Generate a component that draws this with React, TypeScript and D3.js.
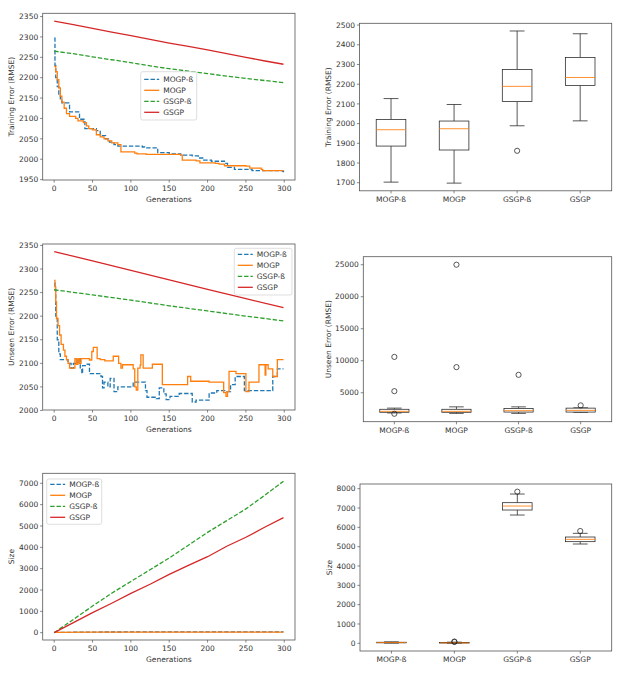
import React from 'react';
import * as d3 from 'd3';

type Pt = [number, number];

const SERIES_NAMES = ['MOGP-ß', 'MOGP', 'GSGP-ß', 'GSGP'];
const SERIES_COLORS = ['#1f77b4', '#ff7f0e', '#2ca02c', '#d62728'];
const SERIES_DASHED = [true, false, true, false];
const GEN_TICKS = [0, 50, 100, 150, 200, 250, 300];

// ---- Training error over generations
const trainMOGPb: Pt[] = [[0, 2297], [1, 2230], [2, 2200], [4, 2178], [6, 2160], [8, 2148], [10, 2138], [20, 2116], [33, 2098], [40, 2075], [55, 2070], [60, 2058], [67, 2050], [72, 2042], [78, 2036], [83, 2032], [115, 2030], [118, 2028], [133, 2026], [135, 2016], [150, 2013], [165, 2010], [180, 2008], [188, 2003], [195, 1998], [205, 1995], [222, 1990], [226, 1980], [235, 1975], [258, 1972], [298, 1970], [299, 1968]];
const trainMOGP: Pt[] = [[0, 2228], [2, 2215], [4, 2195], [6, 2175], [8, 2155], [10, 2140], [13, 2125], [16, 2112], [20, 2105], [28, 2100], [31, 2094], [38, 2090], [42, 2082], [45, 2075], [50, 2072], [55, 2060], [60, 2055], [65, 2050], [70, 2045], [75, 2040], [83, 2036], [87, 2018], [105, 2015], [108, 2013], [120, 2012], [165, 2010], [167, 1998], [185, 1996], [190, 1991], [210, 1990], [215, 1988], [222, 1984], [250, 1983], [255, 1978], [270, 1975], [272, 1972], [299, 1972]];
const trainGSGPb: Pt[] = [[0, 2265], [25, 2259], [50, 2251], [75, 2244], [100, 2237], [125, 2229], [150, 2222], [175, 2216], [200, 2210], [225, 2204], [250, 2198], [275, 2193], [299, 2188]];
const trainGSGP: Pt[] = [[0, 2339], [25, 2330], [50, 2321], [75, 2312], [100, 2303], [125, 2294], [150, 2285], [175, 2277], [200, 2268], [225, 2259], [250, 2250], [275, 2241], [299, 2233]];

// ---- Unseen error over generations
const unseenMOGPb: Pt[] = [[0, 2270], [1, 2255], [2, 2200], [4, 2150], [6, 2120], [8, 2108], [18, 2100], [22, 2090], [25, 2100], [31, 2110], [34, 2088], [36, 2078], [37, 2095], [43, 2098], [46, 2078], [61, 2072], [63, 2048], [65, 2060], [70, 2050], [73, 2068], [78, 2040], [83, 2050], [103, 2060], [119, 2042], [121, 2028], [133, 2025], [137, 2048], [143, 2035], [146, 2023], [151, 2030], [163, 2036], [180, 2018], [185, 2022], [202, 2037], [212, 2042], [224, 2040], [230, 2055], [236, 2072], [248, 2042], [285, 2072], [291, 2088], [299, 2088]];
const unseenMOGP: Pt[] = [[0, 2276], [1, 2262], [2, 2230], [3, 2195], [5, 2180], [7, 2160], [9, 2140], [12, 2128], [14, 2115], [16, 2108], [18, 2100], [20, 2090], [27, 2110], [29, 2098], [31, 2110], [33, 2100], [35, 2110], [46, 2107], [49, 2125], [51, 2134], [56, 2110], [60, 2108], [66, 2105], [77, 2115], [84, 2100], [87, 2090], [89, 2097], [103, 2088], [105, 2050], [107, 2043], [109, 2090], [112, 2096], [113, 2118], [116, 2090], [128, 2098], [141, 2055], [174, 2072], [178, 2062], [202, 2060], [221, 2038], [224, 2030], [226, 2040], [228, 2083], [237, 2078], [250, 2040], [254, 2060], [267, 2097], [275, 2075], [276, 2097], [279, 2088], [285, 2072], [291, 2108], [299, 2108]];
const unseenGSGPb: Pt[] = [[0, 2256], [50, 2245], [100, 2234], [150, 2222], [200, 2211], [250, 2200], [299, 2190]];
const unseenGSGP: Pt[] = [[0, 2337], [50, 2317], [100, 2297], [150, 2277], [200, 2257], [250, 2237], [299, 2218]];

// ---- Size over generations
const sizeMOGPb: Pt[] = [[0, 10], [50, 30], [150, 38], [299, 42]];
const sizeMOGP: Pt[] = [[0, 10], [50, 22], [150, 28], [299, 30]];
const sizeGSGPb: Pt[] = [[0, 0], [25, 620], [50, 1250], [75, 1850], [100, 2400], [125, 2950], [150, 3500], [175, 4100], [200, 4700], [225, 5250], [250, 5800], [275, 6450], [299, 7100]];
const sizeGSGP: Pt[] = [[0, 0], [25, 470], [50, 940], [75, 1380], [100, 1840], [125, 2270], [150, 2730], [175, 3150], [200, 3560], [225, 4050], [250, 4470], [275, 4950], [299, 5390]];

// ---- Box plot statistics (per category, order = SERIES_NAMES)
const trainLow = [1703, 1698, 1989, 2014];
const trainQ1 = [1886, 1866, 2112, 2194];
const trainMed = [1969, 1974, 2189, 2234];
const trainQ3 = [2021, 2013, 2275, 2336];
const trainHigh = [2127, 2097, 2470, 2456];
const trainOut = [[], [], [1862], []];

const unseenLow = [1850, 1780, 1780, 1940];
const unseenQ1 = [1950, 1950, 1984, 1984];
const unseenMed = [2100, 2100, 2200, 2250];
const unseenQ3 = [2420, 2420, 2560, 2600];
const unseenHigh = [2600, 2800, 2800, 2650];
const unseenOut = [[10600, 5250, 1720], [25000, 9000], [7800], [3030]];

const sizeLow = [10, 5, 6638, 5138];
const sizeQ1 = [25, 15, 6897, 5259];
const sizeMed = [40, 25, 7103, 5379];
const sizeQ3 = [55, 40, 7276, 5500];
const sizeHigh = [75, 60, 7724, 5690];
const sizeOut = [[], [90, 70], [7845], [5810]];

const TRAIN_TICKS = [1950, 2000, 2050, 2100, 2150, 2200, 2250, 2300, 2350];
const UNSEEN_TICKS = [2000, 2050, 2100, 2150, 2200, 2250, 2300, 2350];
const SIZE_TICKS = [0, 1000, 2000, 3000, 4000, 5000, 6000, 7000];
const TRAIN_BOX_TICKS = [1700, 1800, 1900, 2000, 2100, 2200, 2300, 2400, 2500];
const UNSEEN_BOX_TICKS = [5000, 10000, 15000, 20000, 25000];
const SIZE_BOX_TICKS = [0, 1000, 2000, 3000, 4000, 5000, 6000, 7000, 8000];

const FONT = "'DejaVu Sans', sans-serif";
const FS = 7.5;
const TXT = '#333';
const SPINE = '#555';
const DASH = '4.4,1.9';
const LW = 1.3;

type Box = { l: number; t: number; r: number; b: number };

function YAxis({ box, y, ticks, label, labelX }: { box: Box; y: d3.ScaleLinear<number, number>; ticks: number[]; label: string; labelX: number }) {
  const mid = (box.t + box.b) / 2;
  return (
    <g>
      {ticks.map((v) => (
        <g key={v}>
          <line x1={box.l - 2.6} x2={box.l} y1={y(v)} y2={y(v)} stroke={SPINE} strokeWidth={0.7} />
          <text x={box.l - 4.5} y={y(v) + 2.7} textAnchor="end" fontSize={FS} fontFamily={FONT} fill={TXT}>{v}</text>
        </g>
      ))}
      <text transform={`translate(${labelX + 2.7},${mid}) rotate(-90)`} textAnchor="middle" fontSize={FS} fontFamily={FONT} fill={TXT}>{label}</text>
    </g>
  );
}

function LinePanel({ box, yDomain, yTicks, yLabel, lines, stepped, legend }: {
  box: Box; yDomain: [number, number]; yTicks: number[]; yLabel: string; lines: Pt[][]; stepped: boolean[];
  legend: { x: number; y: number; w: number; h: number; rows: number[] };
}) {
  const x = d3.scaleLinear().domain([-15, 314]).range([box.l, box.r]);
  const y = d3.scaleLinear().domain(yDomain).range([box.b, box.t]);
  const clipId = `clip-${Math.round(box.t)}`;
  return (
    <g>
      <defs>
        <clipPath id={clipId}><rect x={box.l} y={box.t} width={box.r - box.l} height={box.b - box.t} /></clipPath>
      </defs>
      <g clipPath={`url(#${clipId})`}>
        {lines.map((pts, i) => {
          const gen = d3.line<Pt>().x((d) => x(d[0])).y((d) => y(d[1])).curve(stepped[i] ? d3.curveStepAfter : d3.curveLinear);
          return <path key={i} d={gen(pts) || ''} fill="none" stroke={SERIES_COLORS[i]} strokeWidth={LW} strokeDasharray={SERIES_DASHED[i] ? DASH : undefined} />;
        })}
      </g>
      <rect x={box.l} y={box.t} width={box.r - box.l} height={box.b - box.t} fill="none" stroke={SPINE} strokeWidth={0.8} />
      {GEN_TICKS.map((v) => (
        <g key={v}>
          <line x1={x(v)} x2={x(v)} y1={box.b} y2={box.b + 2.6} stroke={SPINE} strokeWidth={0.7} />
          <text x={x(v)} y={box.b + 11} textAnchor="middle" fontSize={FS} fontFamily={FONT} fill={TXT}>{v}</text>
        </g>
      ))}
      <text x={(box.l + box.r) / 2} y={box.b + 22} textAnchor="middle" fontSize={FS} fontFamily={FONT} fill={TXT}>Generations</text>
      <YAxis box={box} y={y} ticks={yTicks} label={yLabel} labelX={10.8} />
      <rect x={legend.x} y={legend.y} width={legend.w} height={legend.h} rx={2} fill="#fff" fillOpacity={0.8} stroke="#d0d0d0" strokeWidth={0.7} />
      {SERIES_NAMES.map((n, i) => (
        <g key={n}>
          <line x1={legend.x + 3.5} x2={legend.x + 18.5} y1={legend.rows[i]} y2={legend.rows[i]} stroke={SERIES_COLORS[i]} strokeWidth={LW} strokeDasharray={SERIES_DASHED[i] ? DASH : undefined} />
          <text x={legend.x + 22.5} y={legend.rows[i] + 2.7} fontSize={FS} fontFamily={FONT} fill={TXT}>{n}</text>
        </g>
      ))}
    </g>
  );
}

function BoxPanel({ box, yDomain, yTicks, yLabel, labelX, low, q1, med, q3, high, out }: {
  box: Box; yDomain: [number, number]; yTicks: number[]; yLabel: string; labelX: number;
  low: number[]; q1: number[]; med: number[]; q3: number[]; high: number[]; out: number[][];
}) {
  const x = d3.scaleLinear().domain([0.5, 4.5]).range([box.l, box.r]);
  const y = d3.scaleLinear().domain(yDomain).range([box.b, box.t]);
  const bw = x(0.47) - x(0);
  const cw = bw / 2;
  return (
    <g>
      {SERIES_NAMES.map((n, i) => {
        const cx = x(i + 1);
        return (
          <g key={n}>
            <line x1={cx} x2={cx} y1={y(q3[i])} y2={y(high[i])} stroke="#222" strokeWidth={0.75} />
            <line x1={cx} x2={cx} y1={y(q1[i])} y2={y(low[i])} stroke="#222" strokeWidth={0.75} />
            <line x1={cx - cw / 2} x2={cx + cw / 2} y1={y(high[i])} y2={y(high[i])} stroke="#222" strokeWidth={0.75} />
            <line x1={cx - cw / 2} x2={cx + cw / 2} y1={y(low[i])} y2={y(low[i])} stroke="#222" strokeWidth={0.75} />
            <rect x={cx - bw / 2} y={y(q3[i])} width={bw} height={Math.max(0.1, y(q1[i]) - y(q3[i]))} fill="#fff" stroke="#222" strokeWidth={0.75} />
            <line x1={cx - bw / 2} x2={cx + bw / 2} y1={y(med[i])} y2={y(med[i])} stroke="#ff7f0e" strokeWidth={0.85} />
            {out[i].map((o, k) => (
              <circle key={k} cx={cx} cy={y(o)} r={2.6} fill="none" stroke="#222" strokeWidth={0.75} />
            ))}
            <line x1={cx} x2={cx} y1={box.b} y2={box.b + 2.6} stroke={SPINE} strokeWidth={0.7} />
            <text x={cx} y={box.b + 11} textAnchor="middle" fontSize={FS} fontFamily={FONT} fill={TXT}>{n}</text>
          </g>
        );
      })}
      <rect x={box.l} y={box.t} width={box.r - box.l} height={box.b - box.t} fill="none" stroke={SPINE} strokeWidth={0.8} />
      <YAxis box={box} y={y} ticks={yTicks} label={yLabel} labelX={labelX} />
    </g>
  );
}

export default function App() {
  return (
    <svg width={618} height={685} style={{ position: 'absolute', left: 0, top: 0, background: '#fff' }}>
      <rect width={618} height={685} fill="#fff" />
      <LinePanel
        box={{ l: 42.7, t: 13.3, r: 295, b: 180 }}
        yDomain={[1949, 2358]}
        yTicks={TRAIN_TICKS}
        yLabel="Training Error (RMSE)"
        lines={[trainMOGPb, trainMOGP, trainGSGPb, trainGSGP]}
        stepped={[true, true, false, false]}
        legend={{ x: 140.7, y: 71.7, w: 56, h: 48.3, rows: [79.3, 90.3, 101.3, 112.3] }}
      />
      <BoxPanel
        box={{ l: 359.5, t: 23.3, r: 611.7, b: 190.8 }}
        yDomain={[1659, 2509]}
        yTicks={TRAIN_BOX_TICKS}
        yLabel="Training Error (RMSE)"
        labelX={328.3}
        low={trainLow} q1={trainQ1} med={trainMed} q3={trainQ3} high={trainHigh} out={trainOut}
      />
      <LinePanel
        box={{ l: 42.7, t: 244, r: 295, b: 410 }}
        yDomain={[2001, 2353]}
        yTicks={UNSEEN_TICKS}
        yLabel="Unseen Error (RMSE)"
        lines={[unseenMOGPb, unseenMOGP, unseenGSGPb, unseenGSGP]}
        stepped={[true, true, false, false]}
        legend={{ x: 234.3, y: 248.3, w: 57.7, h: 46.7, rows: [254.3, 265.3, 276.3, 287.3] }}
      />
      <BoxPanel
        box={{ l: 363.3, t: 256.7, r: 611.7, b: 421.7 }}
        yDomain={[480, 26250]}
        yTicks={UNSEEN_BOX_TICKS}
        yLabel="Unseen Error (RMSE)"
        labelX={328.3}
        low={unseenLow} q1={unseenQ1} med={unseenMed} q3={unseenQ3} high={unseenHigh} out={unseenOut}
      />
      <LinePanel
        box={{ l: 42.7, t: 473.3, r: 295, b: 640 }}
        yDomain={[-343, 7468]}
        yTicks={SIZE_TICKS}
        yLabel="Size"
        lines={[sizeMOGPb, sizeMOGP, sizeGSGPb, sizeGSGP]}
        stepped={[false, false, false, false]}
        legend={{ x: 46.7, y: 479, w: 55, h: 45.3, rows: [484.3, 495.3, 506.3, 517.3] }}
      />
      <BoxPanel
        box={{ l: 360, t: 484, r: 611.7, b: 651 }}
        yDomain={[-398, 8243]}
        yTicks={SIZE_BOX_TICKS}
        yLabel="Size"
        labelX={329}
        low={sizeLow} q1={sizeQ1} med={sizeMed} q3={sizeQ3} high={sizeHigh} out={sizeOut}
      />
    </svg>
  );
}
